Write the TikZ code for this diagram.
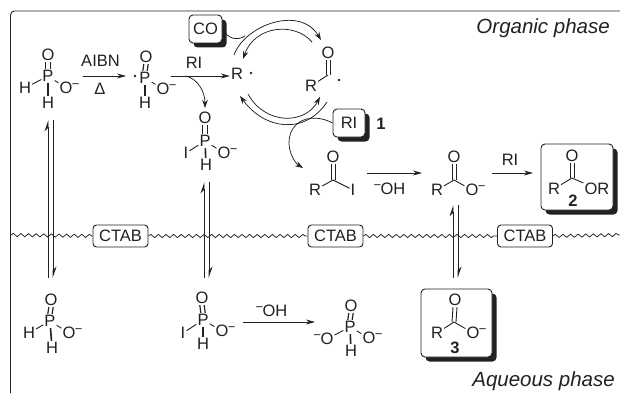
\documentclass[tikz,border=0pt]{standalone}
\usepackage{fontspec}
\setmainfont{Liberation Sans}
\usetikzlibrary{arrows.meta,shadows,decorations.pathmorphing}
\definecolor{ink}{gray}{0.13}
\newcommand{\minusR}{\rlap{\raisebox{5pt}{\kern-.5pt\fontsize{13}{13}\selectfont−}}}
\newcommand{\minusL}{\llap{\raisebox{5pt}{\fontsize{13}{13}\selectfont−\kern-.5pt}}}
\tikzset{
  atom/.style={inner sep=1pt,text height=11.8pt,text depth=0pt,text=ink,font=\fontsize{16.5}{18}\selectfont},
  txt/.style={inner sep=0pt,text=ink,font=\fontsize{16.5}{18}\selectfont},
  num/.style={inner sep=0pt,text=ink,font=\fontsize{16.5}{18}\selectfont\bfseries},
  phase/.style={inner sep=0pt,text=ink,anchor=east,font=\fontsize{20.5}{22}\selectfont\itshape},
  bond/.style={draw=ink,line width=.9pt},
  hbond/.style={draw=ink,line width=1.6pt},
  dash2/.style={draw=ink,line width=1.2pt},
  arr/.style={draw=ink,line width=.8pt,-{Stealth[length=9pt,width=5pt]}},
  curve/.style={draw=ink,line width=.75pt,-{Stealth[length=8pt,width=5.5pt]}},
  eqL/.style={draw=ink,line width=.9pt,-{Stealth[harpoon,length=10pt,width=7pt]}},
  wave/.style={draw=ink,line width=.75pt,decorate,decoration={snake,segment length=7.6pt,amplitude=1.6pt}},
  ctab/.style={draw=ink,line width=.9pt,rounded corners=3.5pt,fill=white,minimum width=55pt,minimum height=22pt,inner sep=0pt,text=ink,font=\fontsize{16.5}{18}\selectfont},
  shbox/.style={draw=ink,line width=.9pt,rounded corners=4pt,fill=white,inner sep=0pt,text=ink,font=\fontsize{16.5}{18}\selectfont,
    general shadow={fill=ink,shadow xshift=4.5pt,shadow yshift=-4.5pt}},
  dotn/.style={circle,fill=ink,inner sep=0pt,minimum size=2.8pt},
}
\begin{document}
\begin{tikzpicture}[x=1pt,y=-1pt]
\useasboundingbox (0,0) rectangle (620,393);
% frame
\coordinate (fTR) at (620,11);
\coordinate (fBL) at (10.5,393);
\draw[ink,line width=.9pt,rounded corners=4pt] (fTR) -- (10.5,11) -- (fBL);
\node[phase] (orgph) at (610,28) {Organic phase};
\node[phase] (aqph) at (615,381) {Aqueous phase};

% wavy interface
\node[ctab] (ct1) at (120.5,236) {CTAB};
\node[ctab] (ct2) at (335.5,236) {CTAB};
\node[ctab] (ct3) at (525,236) {CTAB};
\coordinate (wL) at (11,235);
\coordinate (wR) at (620,235);
\draw[wave] (wL) -- (ct1.west);
\draw[wave] (ct1.east) -- (ct2.west);
\draw[wave] (ct2.east) -- (ct3.west);
\draw[wave] (ct3.east) -- (wR);

% equilibrium arrows
\coordinate (e1a) at (48,278); \coordinate (e1b) at (48,120);
\coordinate (e1c) at (53,120); \coordinate (e1d) at (53,278);
\draw[eqL] (e1a) -- (e1b); \draw[eqL] (e1c) -- (e1d);
\coordinate (e2a) at (204,278); \coordinate (e2b) at (204,182);
\coordinate (e2c) at (209,182); \coordinate (e2d) at (209,278);
\draw[eqL] (e2a) -- (e2b); \draw[eqL] (e2c) -- (e2d);
\coordinate (e3a) at (453,278); \coordinate (e3b) at (453,205);
\coordinate (e3c) at (458,205); \coordinate (e3d) at (458,278);
\draw[eqL] (e3a) -- (e3b); \draw[eqL] (e3c) -- (e3d);

% phosphite A (top left)
\node[atom] (aO) at (48,55) {O};
\node[atom] (aP) at (48,76) {P};
\node[atom] (aH) at (25,88) {H};
\node[atom] (aM) at (66,88) {O\minusR};
\node[atom] (aB) at (48,103) {H};
\draw[dash2] ([xshift=-2.2pt]aO.south) -- ([xshift=-2.2pt]aP.north);
\draw[dash2] ([xshift=2.2pt]aO.south) -- ([xshift=2.2pt]aP.north);
\draw[bond] (aP) -- (aH); \draw[bond] (aP) -- (aM);
\draw[hbond] (aP) -- (aB);

% AIBN arrow
\coordinate (ar1a) at (83,76);
\coordinate (ar1b) at (126,76);
\draw[arr] (ar1a) -- (ar1b);
\node[txt] (aibn) at (100.5,61) {AIBN};
\node[txt] (delta) at (100,89) {Δ};

% phosphonyl radical B
\node[dotn] (bD) at (135,76) {};
\node[atom] (bO) at (146,57) {O};
\node[atom] (bP) at (145,78) {P};
\node[atom] (bM) at (163,89) {O\minusR};
\node[atom] (bB) at (145,103) {H};
\draw[dash2] ([xshift=-2.2pt]bO.south) -- ([xshift=-2.2pt]bP.north);
\draw[dash2] ([xshift=2.2pt]bO.south) -- ([xshift=2.2pt]bP.north);
\draw[bond] (bP) -- (bM);
\draw[hbond] (bP) -- (bB);

% RI arrow to R radical
\coordinate (ar2a) at (171,76);
\node[atom] (rR) at (237,74) {R};
\node[dotn] (rD) at (251,73) {};
\draw[arr] (ar2a) -- (rR.west |- ar2a);
\node[txt] (ri1) at (194,63) {RI};
\coordinate (c1a) at (186,76);
\coordinate (c1b) at (205,108);
\draw[curve] (c1a) .. controls (198,79) and (205,92) .. (c1b);

% iodo species C
\node[atom] (cO) at (205,118) {O};
\node[atom] (cP) at (205,141) {P};
\node[atom] (cI) at (186,153) {I};
\node[atom] (cM) at (224,153) {O\minusR};
\node[atom] (cB) at (206,165) {H};
\draw[dash2] ([xshift=-2.2pt]cO.south) -- ([xshift=-2.2pt]cP.north);
\draw[dash2] ([xshift=2.2pt]cO.south) -- ([xshift=2.2pt]cP.north);
\draw[bond] (cP) -- (cI); \draw[bond] (cP) -- (cM);
\draw[hbond] (cP) -- (cB);

% CO box
\node[shbox,minimum width=33pt,minimum height=28pt] (co) at (205.5,29) {CO};
% acyl radical
\node[atom] (dO) at (328,53) {O};
\coordinate (dC) at (328,75);
\node[atom] (dR) at (311,86) {R};
\node[dotn] (dD) at (339,80) {};
\draw[bond] ([xshift=-2pt]dO.south) -- ([xshift=-2pt]dC);
\draw[bond] ([xshift=2pt]dO.south) -- ([xshift=2pt]dC);
\draw[bond] (dR) -- (dC);

% radical cycle arcs
\coordinate (t1a) at (234,55); \coordinate (t1b) at (321,40);
\draw[curve] (t1a) .. controls (245,25) and (300,5) .. (t1b);
\coordinate (t2a) at (312,42); \coordinate (t2b) at (243,59);
\draw[curve] (t2a) .. controls (295,22) and (255,25) .. (t2b);
\coordinate (b1a) at (248,94); \coordinate (b1b) at (320,97);
\draw[curve] (b1a) .. controls (265,125) and (305,125) .. (b1b);
\coordinate (b2a) at (327,102); \coordinate (b2b) at (240,96);
\draw[curve] (b2a) .. controls (305,135) and (265,130) .. (b2b);
\coordinate (cojoin) at (245,36);
\draw[bond,line width=.75pt] (co.east) .. controls (228,39) and (237,41) .. (cojoin);

% RI box
\node[shbox,minimum width=32pt,minimum height=28pt] (rib) at (349,123) {RI};
\node[num] (n1) at (381,124) {1};
\coordinate (c2b) at (303,168);
\draw[curve] (rib.west) .. controls (312,112) and (289,120) .. (289,143) .. controls (289,153) and (295,163) .. (c2b);

% acyl iodide
\node[atom] (fO) at (333,157) {O};
\coordinate (fC) at (333,180);
\node[atom] (fR) at (315,190) {R};
\node[atom] (fI) at (353,190) {I};
\draw[bond] ([xshift=-2pt]fO.south) -- ([xshift=-2pt]fC);
\draw[bond] ([xshift=2pt]fO.south) -- ([xshift=2pt]fC);
\draw[bond] (fR) -- (fC); \draw[bond] (fC) -- (fI);

\coordinate (ar3a) at (367,173); \coordinate (ar3b) at (422,173);
\draw[arr] (ar3a) -- (ar3b);
\node[txt] (oh1) at (393,189) {\minusL OH};

% carboxylate (organic)
\node[atom] (gO) at (454,157) {O};
\coordinate (gC) at (454,180);
\node[atom] (gR) at (437,190) {R};
\node[atom] (gM) at (472,190) {O\minusR};
\draw[bond] ([xshift=-2pt]gO.south) -- ([xshift=-2pt]gC);
\draw[bond] ([xshift=2pt]gO.south) -- ([xshift=2pt]gC);
\draw[bond] (gR) -- (gC); \draw[bond] (gC) -- (gM);

\coordinate (ar4a) at (492,173); \coordinate (ar4b) at (533,173);
\draw[arr] (ar4a) -- (ar4b);
\node[txt] (ri2) at (510,160) {RI};

% product 2
\node[shbox,minimum width=72pt,minimum height=66pt] (box2) at (577,177) {};
\node[atom] (hO) at (572,156) {O};
\coordinate (hC) at (572,178);
\node[atom] (hR) at (554,189) {R};
\node[atom] (hOR) at (597,189) {OR};
\draw[bond] ([xshift=-2pt]hO.south) -- ([xshift=-2pt]hC);
\draw[bond] ([xshift=2pt]hO.south) -- ([xshift=2pt]hC);
\draw[bond] (hR) -- (hC); \draw[bond] (hC) -- (hOR);
\node[num] (n2) at (573,201) {2};

% aqueous phosphite
\node[atom] (iO) at (51,300) {O};
\node[atom] (iP) at (50,321) {P};
\node[atom] (iH) at (29,333) {H};
\node[atom] (iM) at (69,333) {O\minusR};
\node[atom] (iB) at (52,348) {H};
\draw[dash2] ([xshift=-2.2pt]iO.south) -- ([xshift=-2.2pt]iP.north);
\draw[dash2] ([xshift=2.2pt]iO.south) -- ([xshift=2.2pt]iP.north);
\draw[bond] (iP) -- (iH); \draw[bond] (iP) -- (iM);
\draw[hbond] (iP) -- (iB);

% aqueous iodo species
\node[atom] (jO) at (202,298) {O};
\node[atom] (jP) at (203,320) {P};
\node[atom] (jI) at (183,333) {I};
\node[atom] (jM) at (222,331) {O\minusR};
\node[atom] (jB) at (203,344) {H};
\draw[dash2] ([xshift=-2.2pt]jO.south) -- ([xshift=-2.2pt]jP.north);
\draw[dash2] ([xshift=2.2pt]jO.south) -- ([xshift=2.2pt]jP.north);
\draw[bond] (jP) -- (jI); \draw[bond] (jP) -- (jM);
\draw[hbond] (jP) -- (jB);

\coordinate (ar5a) at (243,322); \coordinate (ar5b) at (315,322);
\draw[arr] (ar5a) -- (ar5b);
\node[txt] (oh2) at (275,311) {\minusL OH};

% phosphite dianion
\node[atom] (kO) at (351,306) {O};
\node[atom] (kP) at (350,327) {P};
\node[atom] (kL) at (327,339) {\minusL O};
\node[atom] (kM) at (369,338) {O\minusR};
\node[atom] (kB) at (351,351) {H};
\draw[dash2] ([xshift=-2.2pt]kO.south) -- ([xshift=-2.2pt]kP.north);
\draw[dash2] ([xshift=2.2pt]kO.south) -- ([xshift=2.2pt]kP.north);
\draw[bond] (kP) -- (kL); \draw[bond] (kP) -- (kM);
\draw[hbond] (kP) -- (kB);

% product 3
\node[shbox,minimum width=71pt,minimum height=68pt] (box3) at (456.5,323) {};
\node[atom] (mO) at (455,300) {O};
\coordinate (mC) at (454,322);
\node[atom] (mR) at (437,333) {R};
\node[atom] (mM) at (473,333) {O\minusR};
\draw[bond] ([xshift=-2pt]mO.south) -- ([xshift=-2pt]mC);
\draw[bond] ([xshift=2pt]mO.south) -- ([xshift=2pt]mC);
\draw[bond] (mR) -- (mC); \draw[bond] (mC) -- (mM);
\node[num] (n3) at (455,348) {3};
\end{tikzpicture}
\end{document}
